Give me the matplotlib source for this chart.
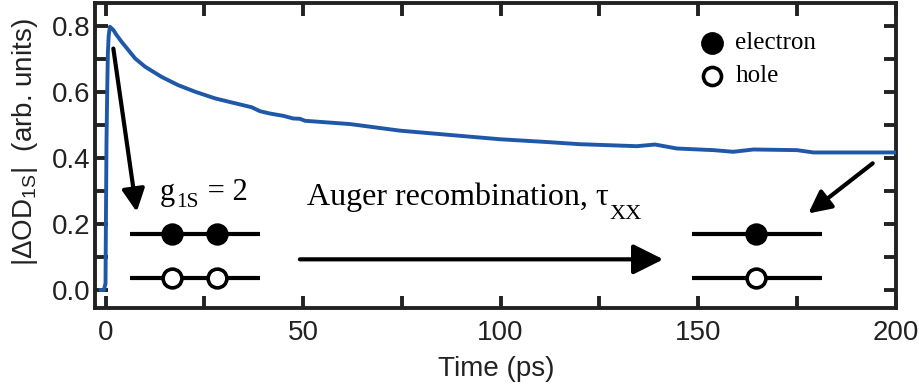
import matplotlib
matplotlib.use("Agg")
import matplotlib.pyplot as plt
from matplotlib import transforms

plt.rcParams["font.family"] = ["Liberation Sans", "DejaVu Sans"]
plt.rcParams["mathtext.fontset"] = "custom"
plt.rcParams["mathtext.rm"] = "Liberation Serif"
plt.rcParams["mathtext.sf"] = "Liberation Sans"
plt.rcParams["mathtext.it"] = "Liberation Serif:italic"

# Transient bleach of the 1S exciton
time_ps = [-1.2, -0.4, 0.0, 0.1, 0.25, 0.45, 0.6, 0.8, 1.1, 2.0, 2.8, 4.1, 5.8,
           7.5, 10.0, 14.2, 18.4, 22.7, 27.7, 31.1, 37.0, 39.1, 41.6, 45.0,
           47.5, 49.2, 50.5, 61.9, 74.6, 87.2, 99.9, 112.5, 120.1, 134.5,
           139.1, 144.6, 153.9, 158.9, 164.0, 175.0, 179.2, 198.6, 200.0]
delta_od = [0.0, 0.0, 0.02, 0.2, 0.45, 0.62, 0.72, 0.77, 0.798, 0.788, 0.773,
            0.752, 0.727, 0.702, 0.677, 0.646, 0.621, 0.601, 0.581, 0.571,
            0.554, 0.542, 0.535, 0.528, 0.520, 0.519, 0.513, 0.503, 0.483,
            0.470, 0.457, 0.448, 0.442, 0.436, 0.441, 0.429, 0.424, 0.419,
            0.426, 0.424, 0.417, 0.417, 0.417]

x_ticks = [0, 50, 100, 150, 200]
y_ticks = [0.0, 0.2, 0.4, 0.6, 0.8]
y_tick_labels = ["0.0", "0.2", "0.4", "0.6", "0.8"]

fig = plt.figure(figsize=(9.19, 3.89), dpi=100)
ax = fig.add_axes([95 / 919, 1 - 308 / 389, 801 / 919, 305 / 389])

ax.plot(time_ps, delta_od, color="#1f58a8", lw=2.8, solid_joinstyle="round",
        zorder=3)

ax.set_xlim(-2.66, 200.1)
ax.set_ylim(-0.0545, 0.870)
ax.set_xticks(x_ticks)
ax.set_xticks([25, 75, 125, 175], minor=True)
ax.set_yticks(y_ticks)
ax.set_yticklabels(y_tick_labels)
ax.set_yticks([0.1, 0.3, 0.5, 0.7], minor=True)
for s in ax.spines.values():
    s.set_linewidth(2.8)
    s.set_color("#222222")
ax.tick_params(which="both", direction="in", top=True, right=True,
               width=2.8, length=9, color="#222222", labelsize=20,
               labelcolor="#222222")
ax.tick_params(axis="x", which="both", pad=9)
ax.tick_params(axis="y", which="both", pad=3)

fig.text(25 / 919, 1 - 142 / 389,
         r"$\mathsf{|\Delta OD_{1S}|}$  (arb. units)",
         rotation=90, ha="center", va="center", fontsize=20, color="#222222")
fig.text(496 / 919, 1 - 369 / 389, "Time (ps)", ha="center", va="center",
         fontsize=20, color="#222222")

serif = ["Liberation Serif", "DejaVu Serif"]
renderer = fig.canvas.get_renderer()


def rich_text(x, y, parts, size):
    """Write consecutive text pieces; each piece is (text, scale, drop_px)."""
    dx = 0.0
    for s, scale, drop in parts:
        tr = transforms.offset_copy(ax.transData, fig=fig, x=dx, y=-drop,
                                    units="dots")
        t = ax.text(x, y, s, transform=tr, fontsize=size * scale,
                    family=serif, va="baseline", ha="left")
        dx += t.get_window_extent(renderer).width + 1


# Energy-level sketches: biexciton (left) and single exciton (right)
lw_lvl = 3.0
ms_dot = 13.5


def level(x0, x1, y, xs, filled):
    ax.plot([x0, x1], [y, y], color="k", lw=lw_lvl, solid_capstyle="butt",
            zorder=4)
    ax.plot(xs, [y] * len(xs), "o", ms=ms_dot,
            mfc="k" if filled else "white", mec="k", mew=2.6, zorder=5)


level(6.2, 39.1, 0.169, [16.9, 28.3], True)
level(6.2, 39.1, 0.037, [16.9, 28.3], False)
level(148.4, 181.3, 0.169, [164.6], True)
level(148.4, 181.3, 0.037, [164.6], False)

rich_text(13.8, 0.272, [("g", 1.0, 0), ("1S", 0.7, 7), (" = 2", 1.0, 0)], 22)
rich_text(50.9, 0.258, [("Auger recombination, \u03c4", 1.0, 0),
                        ("XX", 0.7, 14)], 23)

# Legend
ax.plot([153.5], [0.748], "o", ms=14, mfc="k", mec="k", mew=2.4)
ax.plot([153.5], [0.648], "o", ms=13, mfc="white", mec="k", mew=2.6)
ax.text(159.4, 0.748, "electron", fontsize=18, family=serif, va="center",
        ha="left")
ax.text(159.4, 0.648, "hole", fontsize=18, family=serif, va="center",
        ha="left")

# Arrows
arrow_kw = dict(arrowstyle="-|>", color="k", lw=3.0, shrinkA=0, shrinkB=0)
ax.annotate("", xy=(7.9, 0.237), xytext=(1.98, 0.732),
            arrowprops=dict(arrow_kw, mutation_scale=34))
ax.annotate("", xy=(141.2, 0.093), xytext=(49.2, 0.093),
            arrowprops=dict(arrow_kw, mutation_scale=46))
ax.annotate("", xy=(177.9, 0.232), xytext=(194.2, 0.384),
            arrowprops=dict(arrow_kw, mutation_scale=34))

fig.savefig("out.png", dpi=100)
